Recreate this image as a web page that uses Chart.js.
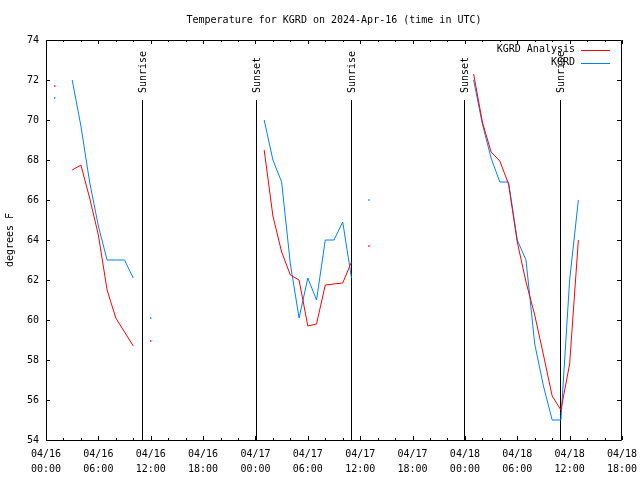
<!DOCTYPE html>
<html>
<head>
<meta charset="utf-8">
<title>Temperature for KGRD</title>
<script src="https://cdn.jsdelivr.net/npm/chart.js@4.4.1/dist/chart.umd.min.js"></script>
<style>
  html, body { margin: 0; padding: 0; background: #fff; }
  canvas { display: block; }
</style>
</head>
<body>
<canvas id="chart" width="640" height="480"></canvas>
<script>
// hours since 2024-04-16 00:00 UTC
const hours = [
  0, 1, 2, 3, 4, 5, 6, 7, 8, 9, 10, 11, 12, 13, 14, 15, 16, 17, 18, 19, 20,
  21, 22, 23, 24, 25, 26, 27, 28, 29, 30, 31, 32, 33, 34, 35, 36, 37, 38, 39,
  40, 41, 42, 43, 44, 45, 46, 47, 48, 49, 50, 51, 52, 53, 54, 55, 56, 57, 58,
  59, 60, 61
];

// degrees F, null = missing hour
const analysisTemps = [
  null, 71.7, null, 67.5, 67.75, 66.1, 64.25, 61.5, 60.1, 59.4, 58.7, null, 58.95,
  null, null, null, null, null, null, null, null, null, null, null, null,
  68.5, 65.2, 63.4, 62.25, 62.0, 59.7, 59.8, 61.75, 61.8, 61.85, 62.9, null, 63.7,
  null, null, null, null, null, null, null, null, null, null, null,
  72.3, 69.9, 68.4, 67.95, 66.8, 63.9, 61.9, 60.25, 58.25, 56.2, 55.5, 57.8, 64.0
];

const kgrdTemps = [
  null, 71.1, null, 72.0, 69.7, 66.9, 64.7, 63.0, 63.0, 63.0, 62.1, null, 60.1,
  null, null, null, null, null, null, null, null, null, null, null, null,
  70.0, 68.0, 66.9, 62.8, 60.1, 62.1, 61.0, 64.0, 64.0, 64.9, 62.1, null, 66.0,
  null, null, null, null, null, null, null, null, null, null, null,
  72.0, 69.8, 68.1, 66.9, 66.9, 64.0, 63.0, 58.8, 56.7, 55.0, 55.0, 62.0, 66.0
];

// sunrise / sunset markers (hours since start)
const eventHours = [11.0, 24.05, 35.0, 47.95, 58.95];
const eventNames = ["Sunrise", "Sunset", "Sunrise", "Sunset", "Sunrise"];
const eventTop = 71; // marker lines stop at this temperature

// x tick labels, every 6 hours
const tickDays = ["04/16", "04/16", "04/16", "04/16", "04/17", "04/17",
  "04/17", "04/17", "04/18", "04/18", "04/18", "04/18"];
const tickTimes = ["00:00", "06:00", "12:00", "18:00", "00:00", "06:00",
  "12:00", "18:00", "00:00", "06:00", "12:00", "18:00"];

const FONT = "'DejaVu Sans Mono', monospace";
Chart.defaults.font.family = FONT;
Chart.defaults.font.size = 10;
Chart.defaults.color = "#000";

const toPoints = (vals) => hours.map((h, i) => ({ x: h, y: vals[i] }));

// gnuplot draws a lone point as a dot
const loneDot = (ctx) => {
  const d = ctx.dataset.data;
  const i = ctx.dataIndex;
  if (d[i].y == null) return 0;
  const prev = i > 0 ? d[i - 1].y : null;
  const next = i < d.length - 1 ? d[i + 1].y : null;
  return prev == null && next == null ? 1 : 0;
};

const crisp = (v) => Math.round(v) + 0.5;

const gnuplotDecor = {
  id: "gnuplotDecor",
  beforeDatasetsDraw(chart) {
    const { ctx, chartArea: a, scales: { x, y } } = chart;
    ctx.save();
    ctx.strokeStyle = "#000";
    ctx.lineWidth = 1;

    // border box
    ctx.beginPath();
    ctx.moveTo(crisp(a.left), crisp(a.top));
    ctx.lineTo(crisp(a.right - 1), crisp(a.top));
    ctx.lineTo(crisp(a.right - 1), crisp(a.bottom));
    ctx.lineTo(crisp(a.left), crisp(a.bottom));
    ctx.closePath();
    ctx.stroke();

    // inward ticks, mirrored
    ctx.beginPath();
    for (let h = x.min; h <= x.max; h += 2) {
      const px = crisp(x.getPixelForValue(h));
      const len = h % 6 === 0 ? 4 : 2;
      ctx.moveTo(px, a.bottom); ctx.lineTo(px, a.bottom - len);
      ctx.moveTo(px, a.top); ctx.lineTo(px, a.top + len);
    }
    y.ticks.forEach((t) => {
      const py = crisp(y.getPixelForValue(t.value));
      ctx.moveTo(a.left, py); ctx.lineTo(a.left + 4, py);
      ctx.moveTo(a.right - 1, py); ctx.lineTo(a.right - 5, py);
    });
    ctx.stroke();

    // sunrise / sunset lines and labels
    ctx.fillStyle = "#000";
    ctx.font = "10px " + FONT;
    eventHours.forEach((t, i) => {
      const px = crisp(x.getPixelForValue(t));
      const top = y.getPixelForValue(eventTop);
      ctx.beginPath();
      ctx.moveTo(px, top);
      ctx.lineTo(px, y.getPixelForValue(y.min));
      ctx.stroke();
      ctx.save();
      ctx.translate(px + 1, top - 7);
      ctx.rotate(-Math.PI / 2);
      ctx.textAlign = "left";
      ctx.textBaseline = "middle";
      ctx.fillText(eventNames[i], 0, 0);
      ctx.restore();
    });
    ctx.restore();
  },
  afterDraw(chart) {
    const { ctx, chartArea: a } = chart;
    ctx.save();
    ctx.fillStyle = "#000";
    ctx.font = "10px " + FONT;
    ctx.lineWidth = 1;

    // title
    ctx.textAlign = "center";
    ctx.textBaseline = "middle";
    ctx.fillText("Temperature for KGRD on 2024-Apr-16 (time in UTC)", (a.left + a.right) / 2, 20);

    // key
    chart.data.datasets.forEach((d, i) => {
      const ly = a.top + 9.5 + i * 13;
      ctx.textAlign = "right";
      ctx.fillText(d.label, a.right - 47, ly);
      ctx.strokeStyle = d.borderColor;
      ctx.beginPath();
      ctx.moveTo(a.right - 41, crisp(ly));
      ctx.lineTo(a.right - 12, crisp(ly));
      ctx.stroke();
    });
    ctx.restore();
  },
};

new Chart(document.getElementById("chart"), {
  type: "line",
  data: {
    datasets: [
      {
        label: "KGRD Analysis",
        data: toPoints(analysisTemps),
        borderColor: "rgb(255,0,0)",
        backgroundColor: "rgb(255,0,0)",
        borderWidth: 1,
        pointStyle: "rect",
        pointRadius: loneDot,
        pointBorderWidth: 0,
        spanGaps: false,
      },
      {
        label: "KGRD",
        data: toPoints(kgrdTemps),
        borderColor: "rgb(0,128,255)",
        backgroundColor: "rgb(0,128,255)",
        borderWidth: 1,
        pointStyle: "rect",
        pointRadius: loneDot,
        pointBorderWidth: 0,
        spanGaps: false,
      },
    ],
  },
  options: {
    responsive: false,
    animation: false,
    layout: { padding: { top: 40, right: 18, left: 0, bottom: 0 } },
    plugins: {
      legend: { display: false },
      tooltip: { enabled: false },
      title: { display: false },
    },
    scales: {
      x: {
        type: "linear",
        min: 0,
        max: 66,
        grid: { display: false, drawTicks: false },
        border: { display: false },
        afterFit: (s) => {
          s.height = 40;
          s.paddingLeft = 0;
          s.paddingRight = 0;
        },
        ticks: {
          stepSize: 6,
          autoSkip: false,
          maxRotation: 0,
          padding: 7,
          font: { size: 10, lineHeight: 1.5 },
          callback: (v) => [tickDays[v / 6], tickTimes[v / 6]],
        },
      },
      y: {
        min: 54,
        max: 74,
        grid: { display: false, drawTicks: false },
        border: { display: false },
        afterFit: (s) => {
          s.width = 46;
          s.paddingTop = 0;
          s.paddingBottom = 0;
        },
        title: { display: true, text: "degrees F", padding: 4, font: { size: 10 } },
        ticks: { stepSize: 2, padding: 7 },
      },
    },
  },
  plugins: [gnuplotDecor],
});
</script>
</body>
</html>
